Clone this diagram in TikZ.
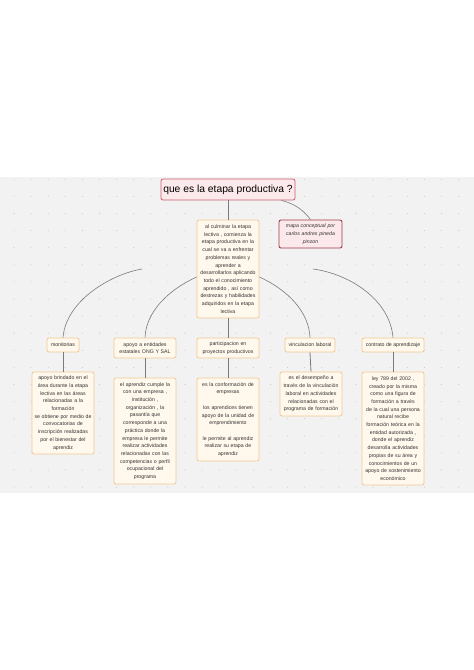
\documentclass[tikz,border=0pt]{standalone}
\usepackage{fontspec}
\setmainfont{Liberation Sans}
\definecolor{bandgray}{HTML}{F2F2F2}
\definecolor{dotgray}{HTML}{C9C9C9}
\definecolor{boxline}{HTML}{F2C896}
\definecolor{boxfill}{HTML}{FFF8EC}
\definecolor{pinkline}{HTML}{C8606A}
\definecolor{pinkfill}{HTML}{FCE9EB}
\definecolor{notelinec}{HTML}{9E3A48}
\definecolor{linegray}{HTML}{7A7A7A}
\definecolor{textc}{HTML}{333333}
\begin{document}
\begin{tikzpicture}[x=1pt,y=-1pt,
  box/.style={draw=boxline, fill=boxfill, rounded corners=2pt, line width=0.8pt,
    align=center, inner sep=1pt, text=textc, font=\fontsize{5.2}{7.7}\selectfont},
  wbox/.style={box, text width=60pt, minimum width=62pt},
  pinkbox/.style={box, draw=pinkline, fill=pinkfill},
  conn/.style={draw=linegray, line width=0.6pt}]
\useasboundingbox (0,0) rectangle (474,670);
\fill[white] (0,0) rectangle (474,670);
\fill[bandgray] (0,177) rectangle (474,493);
\foreach \i in {0,...,26}{
  \foreach \j in {0,...,18}{
    \fill[dotgray] ({14+17.1*\i},{179.3+17.1*\j}) circle (0.55pt);
  }
}
% nodes
\node[pinkbox, minimum width=134pt, minimum height=21pt, font=\fontsize{10.3}{12}\selectfont, text=black] (title) at (228,189.5) {que es la etapa productiva ?};
\node[pinkbox, draw=notelinec, line width=0.9pt, text width=60pt, minimum width=63pt, minimum height=28pt, font=\fontsize{5.2}{7.7}\selectfont\itshape] (note) at (310.5,234) {mapa conceptual por\\carlos andres pineda\\pinzon};
\node[wbox, minimum height=98pt] (main) at (228,269) {al culminar la etapa\\lectiva , comienza la\\etapa productiva en la\\cual se va a enfrentar\\problemas reales y\\aprender a\\desarrollarlos aplicando\\todo el conocimiento\\aprendido , así como\\destrezas y habilidades\\adquiridos en la etapa\\lectiva};

\node[box, minimum width=32pt, minimum height=14pt] (m1) at (63,345) {monitorias};
\node[wbox, minimum height=20pt] (m2) at (145,348) {apoyo a entidades\\estatales ONG Y SAL};
\node[wbox, minimum height=20pt] (m3) at (228,348) {participacion en\\proyectos productivos};
\node[box, minimum width=50pt, minimum height=14pt] (m4) at (310,345) {vinculacion laboral};
\node[box, minimum width=62pt, minimum height=14pt] (m5) at (393,345) {contrato de aprendizaje};

\node[wbox, minimum height=82pt] (d1) at (63,413) {apoyo brindado en el\\área durante la etapa\\lectiva en las áreas\\relacionadas a la\\formación\\se obtiene por medio de\\convocatorias de\\inscripción realizadas\\por el bienestar del\\aprendiz};
\node[wbox, minimum height=106pt] (d2) at (145,431) {el aprendiz cumple la\\con una empresa ,\\institución ,\\organización , la\\pasantía que\\corresponde a una\\práctica donde la\\empresa le permite\\realizar actividades\\relacionadas con las\\competencias o perfil\\ocupacional del\\programa};
\node[wbox, minimum height=83pt] (d3) at (228,419.5) {es la conformación de\\empresas\\[7.7pt]los aprendices tienen\\apoyo de la unidad de\\emprendimiento\\[7.7pt]le permite al aprendiz\\realizar su etapa de\\aprendiz};
\node[wbox, minimum height=44pt] (d4) at (311,394) {es el desempeño a\\través de la vinculación\\laboral en actividades\\relacionadas con el\\programa de formación};
\node[wbox, minimum height=113pt] (d5) at (393,428.5) {ley 789 del 2002 ,\\creado por la misma\\como una figura de\\formación a través\\de la cual una persona\\natural recibe\\formación teórica en la\\entidad autorizada ,\\donde el aprendiz\\desarrolla actividades\\propias de su área y\\conocimientos de un\\apoyo de sostenimiento\\económico};

% free ends of the two outer curves
\coordinate (lstart) at (142,269);
\coordinate (rstart) at (313,269);

% connectors
\draw[conn] (title.south) -- (main.north);
\draw[conn] ([xshift=-14pt]title.south east) .. controls (296,204) and (304,211) .. (note.north);
\draw[conn] (lstart) .. controls (112,274) and (66,300) .. (m1.north);
\draw[conn] ([yshift=-8pt]main.west) .. controls (168,290) and (146,312) .. (m2.north);
\draw[conn] (main.south) -- (m3.north);
\draw[conn] ([yshift=-8pt]main.east) .. controls (288,290) and (309,312) .. (m4.north);
\draw[conn] (rstart) .. controls (350,274) and (390,300) .. (m5.north);
\foreach \k in {1,...,5}{
  \draw[conn, line width=0.8pt] (m\k.south) -- (d\k.north);
}
\end{tikzpicture}
\end{document}
